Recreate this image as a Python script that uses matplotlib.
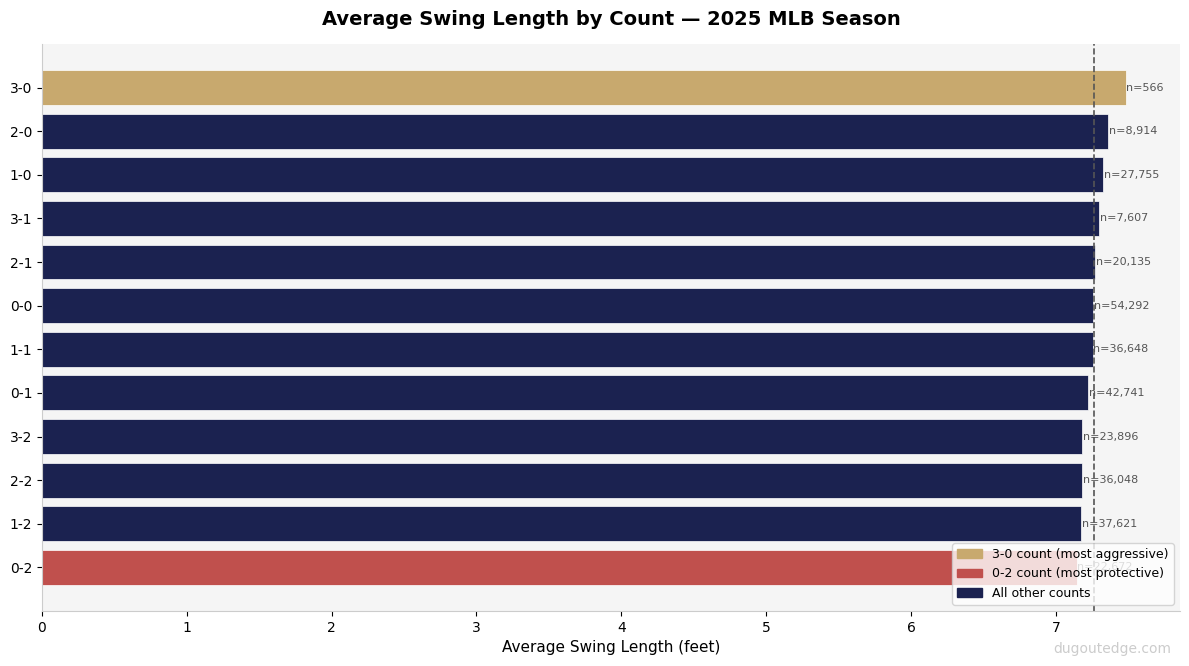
import numpy as np
import matplotlib
matplotlib.use('Agg')
import matplotlib.pyplot as plt
from matplotlib.patches import Patch

# counts sorted by swing length, longest first
counts = ["3-0", "2-0", "1-0", "3-1", "2-1", "0-0", "1-1", "0-1", "3-2", "2-2", "1-2", "0-2"]
swing_len = [7.483, 7.359, 7.327, 7.299, 7.271, 7.257, 7.255, 7.223, 7.182, 7.182, 7.173, 7.143]
n_swings = [566, 8914, 27755, 7607, 20135, 54292, 36648, 42741, 23896, 36048, 37621, 22672]
league_avg = 7.262

GOLD = '#c8a96e'
RED = '#c0504d'
NAVY = '#1b2250'

colors = []
for c in counts:
    if c == "3-0":
        colors.append(GOLD)
    elif c == "0-2":
        colors.append(RED)
    else:
        colors.append(NAVY)

fig, ax = plt.subplots(figsize=(11.89, 6.66), dpi=100)
fig.subplots_adjust(left=0.0353, right=0.9924, bottom=0.0826, top=0.934)
ax.set_facecolor('#f5f5f5')

y_pos = np.arange(len(counts))
ax.barh(y_pos, swing_len, height=0.8, color=colors, edgecolor='white', linewidth=0.5)

ax.axvline(x=league_avg, color='#555555', linestyle='--', linewidth=1.2)

for i, (v, n) in enumerate(zip(swing_len, n_swings)):
    ax.text(v + 0.005, i, f"n={n:,}", va='center', ha='left', fontsize=8, color='#555555')

ax.set_yticks(y_pos)
ax.set_yticklabels(counts, fontsize=10)
ax.set_ylim(len(counts), -1)
ax.set_xlim(0, max(swing_len) * 1.05)
ax.set_xlabel('Average Swing Length (feet)', fontsize=11)
ax.set_title('Average Swing Length by Count — 2025 MLB Season', fontsize=14,
             fontweight='bold', pad=14)

for s in ['top', 'right']:
    ax.spines[s].set_visible(False)
for s in ['left', 'bottom']:
    ax.spines[s].set_color('#cccccc')

handles = [Patch(color=GOLD, label='3-0 count (most aggressive)'),
           Patch(color=RED, label='0-2 count (most protective)'),
           Patch(color=NAVY, label='All other counts')]
ax.legend(handles=handles, loc='lower right', fontsize=9, framealpha=0.8)

fig.text(0.985, 0.015, 'dugoutedge.com', ha='right', va='bottom', fontsize=10, color='#cccccc')

plt.savefig('out.png', dpi=100)
